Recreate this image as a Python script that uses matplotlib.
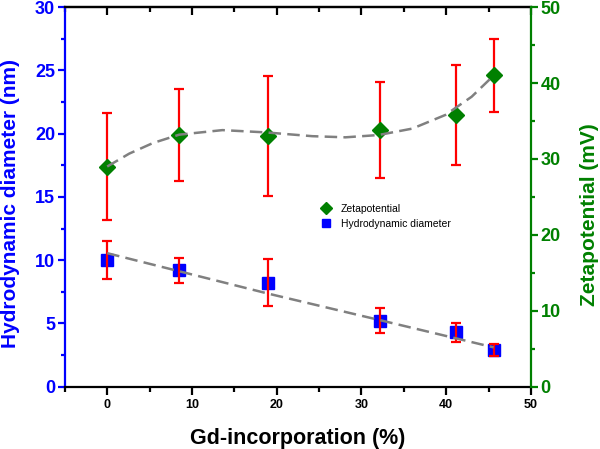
import matplotlib
matplotlib.use("Agg")
import matplotlib.pyplot as plt
from matplotlib.ticker import MultipleLocator

plt.rcParams['font.family'] = ['Liberation Sans', 'DejaVu Sans']

# Gd-incorporation (%)
gd = [0, 8.5, 19.0, 32.2, 41.1, 45.6]

# hydrodynamic diameter (nm) and its error
diam = [10.0, 9.2, 8.2, 5.2, 4.3, 2.9]
diam_err = [1.5, 1.0, 1.85, 1.0, 0.75, 0.5]

# zetapotential (mV) and its error
zeta = [29.0, 33.2, 33.0, 33.8, 35.8, 41.0]
zeta_err = [7.0, 6.05, 7.9, 6.3, 6.6, 4.75]

# guide lines
zeta_fit_x = [0, 2.6, 5.4, 8.5, 13.6, 18.7, 24.2, 28.1, 32.0, 36.0, 39.9, 43.0, 45.6]
zeta_fit_y = [29.0, 30.7, 32.1, 33.2, 33.8, 33.5, 33.0, 32.85, 33.15, 34.0, 35.8, 38.2, 41.0]
diam_fit_x = [0, 19.0, 32.2, 45.6]
diam_fit_y = [10.55, 7.35, 5.25, 3.1]

blue = '#0000ff'
green = '#008000'
red = '#ff0000'
grey = '#808080'

fig = plt.figure(figsize=(6, 4.49), dpi=100)
ax = fig.add_axes([0.108, 0.139, 0.777, 0.845])
ax2 = ax.twinx()

# hydrodynamic diameter on the left axis
hd, = ax.plot(gd, diam, 's', color=blue, ms=8, zorder=2, label='Hydrodynamic diameter')
ax.errorbar(gd, diam, yerr=diam_err, fmt='none', ecolor=red, elinewidth=1.6,
            capsize=3.5, capthick=1.6, zorder=3)
ax.plot(diam_fit_x, diam_fit_y, color=grey, lw=1.8, dashes=(5, 2.5), zorder=4)

# zetapotential on the right axis
ax2.errorbar(gd, zeta, yerr=zeta_err, fmt='none', ecolor=red, elinewidth=1.6,
             capsize=3.5, capthick=1.6, zorder=2)
zp, = ax2.plot(gd, zeta, 'D', color=green, ms=8, zorder=3, label='Zetapotential')
ax2.plot(zeta_fit_x, zeta_fit_y, color=grey, lw=1.8, dashes=(5, 2.5), zorder=4)

ax.set_xlim(-5, 50)
ax.set_ylim(0, 30)
ax2.set_ylim(0, 50)

ax.xaxis.set_major_locator(MultipleLocator(10))
ax.xaxis.set_minor_locator(MultipleLocator(5))
ax.yaxis.set_major_locator(MultipleLocator(5))
ax.yaxis.set_minor_locator(MultipleLocator(2.5))
ax2.yaxis.set_major_locator(MultipleLocator(10))
ax2.yaxis.set_minor_locator(MultipleLocator(5))

for s in ax.spines.values():
    s.set_linewidth(1.6)
for s in ax2.spines.values():
    s.set_linewidth(1.6)
ax.spines['left'].set_color(blue)
ax.spines['right'].set_visible(False)
ax2.spines['left'].set_visible(False)
ax2.spines['top'].set_visible(False)
ax2.spines['bottom'].set_visible(False)
ax2.spines['right'].set_color(green)

ax.tick_params(axis='x', which='both', direction='out', width=1.6, colors='black',
               labelsize=9, pad=3)
ax.tick_params(axis='x', which='major', length=6)
ax.tick_params(axis='x', which='minor', length=3.5)
ax.tick_params(axis='y', which='both', direction='out', width=1.6, colors=blue,
               labelsize=13, pad=2)
ax.tick_params(axis='y', which='major', length=5)
ax.tick_params(axis='y', which='minor', length=3)
ax2.tick_params(axis='y', which='both', direction='out', width=1.6, colors=green,
                labelsize=13, pad=2)
ax2.tick_params(axis='y', which='major', length=5)
ax2.tick_params(axis='y', which='minor', length=3)

top = ax.secondary_xaxis('top')
top.xaxis.set_major_locator(MultipleLocator(10))
top.xaxis.set_minor_locator(MultipleLocator(5))
top.tick_params(which='both', direction='in', width=1.6, labeltop=False)
top.tick_params(which='major', length=6)
top.tick_params(which='minor', length=3.5)
top.spines['top'].set_linewidth(1.6)

for lab in ax.get_xticklabels() + ax.get_yticklabels() + ax2.get_yticklabels():
    lab.set_fontweight('bold')

ax.set_xlabel('Gd-incorporation (%)', fontsize=15.5, fontweight='bold', labelpad=12)
ax.set_ylabel('Hydrodynamic diameter (nm)', fontsize=15, fontweight='bold', color=blue)
ax2.set_ylabel('Zetapotential (mV)', fontsize=15, fontweight='bold', color=green)
ax.yaxis.set_label_coords(-0.097, 0.482)
ax2.yaxis.set_label_coords(1.105, 0.453)

fig.legend(handles=[zp, hd], loc='upper left', bbox_to_anchor=(0.535, 1 - 204 / 449),
           frameon=False, fontsize=7.5, borderpad=0, borderaxespad=0, markerscale=0.75,
           handlelength=1.0, handletextpad=0.9, labelspacing=0.45)

fig.savefig('out.png', dpi=100)
